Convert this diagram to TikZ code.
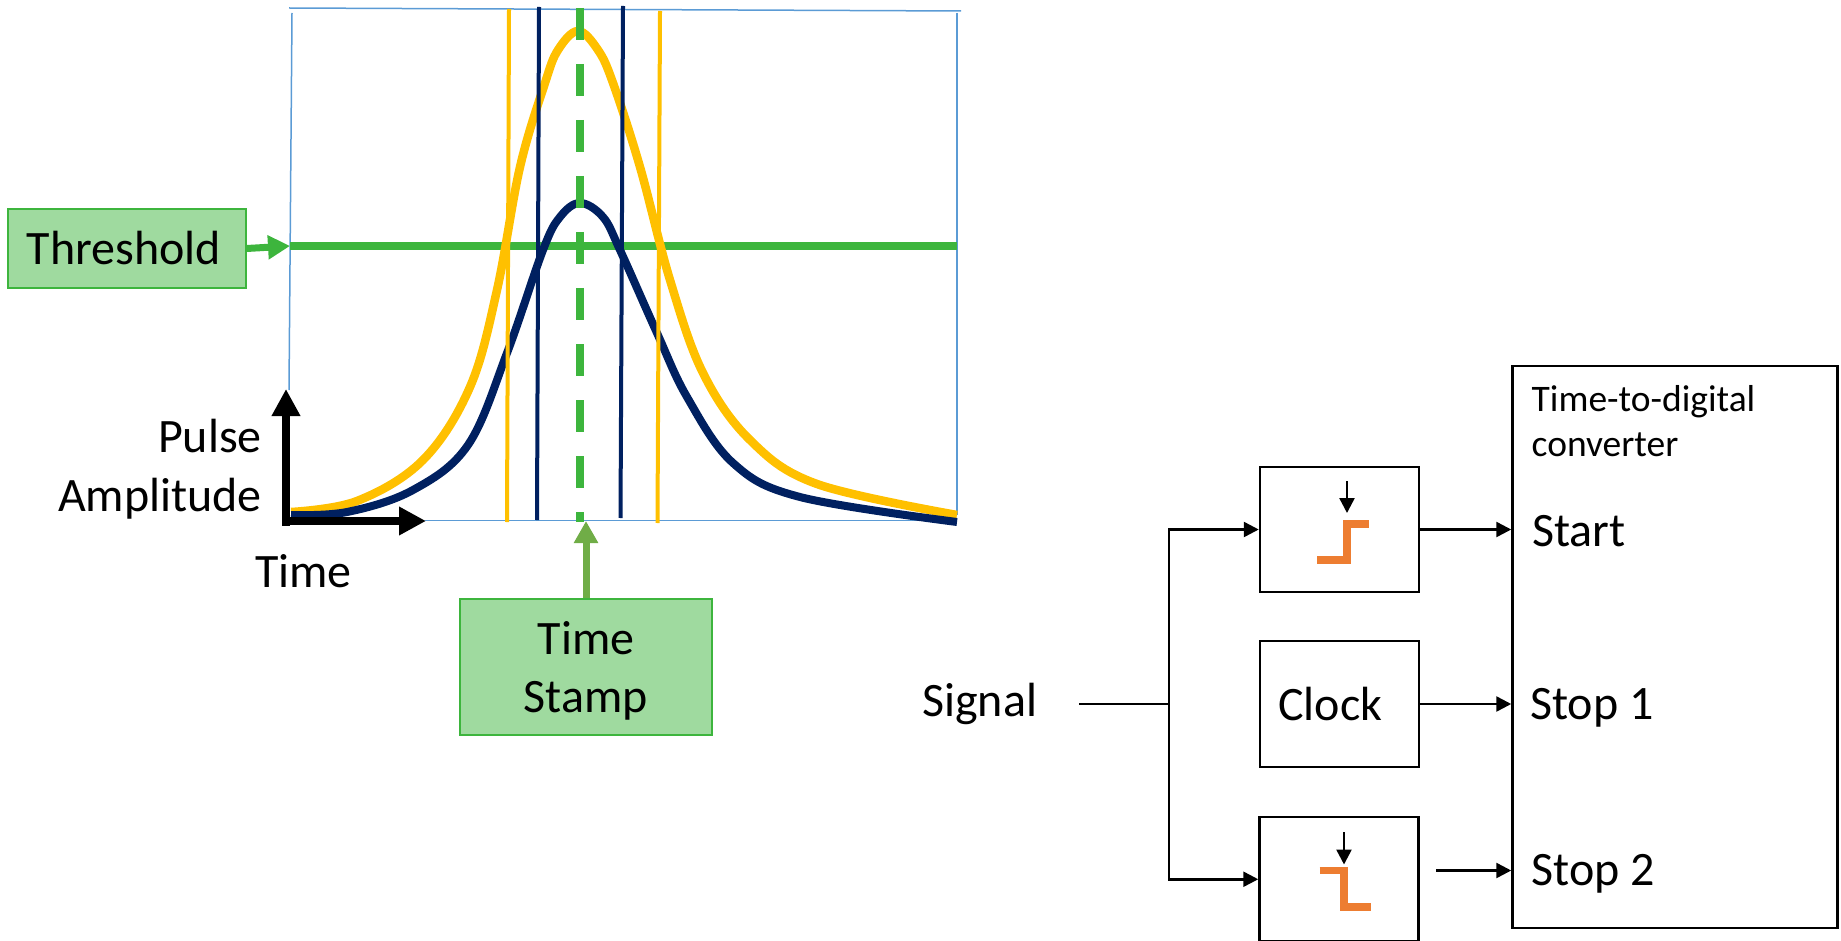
\documentclass[tikz,border=0pt]{standalone}
\usepackage{fontspec}
\setmainfont{Carlito}
\usetikzlibrary{arrows.meta}

\definecolor{framecol}{HTML}{5B9BD5}
\definecolor{pulseyellow}{HTML}{FFC000}
\definecolor{pulsenavy}{HTML}{002060}
\definecolor{markgreen}{HTML}{3DB53D}
\definecolor{labelfill}{HTML}{9FDA9F}
\definecolor{stamparrow}{HTML}{70AD47}
\definecolor{steporange}{HTML}{ED7D31}

\tikzset{
    bigtext/.style={font=\fontsize{48}{58}\selectfont, inner sep=0pt},
    smalltext/.style={font=\fontsize{37.5}{45}\selectfont, inner sep=0pt},
    greenlabel/.style={draw=markgreen, fill=labelfill, line width=1.5pt, inner sep=0pt},
    blockbox/.style={draw=black, line width=2.5pt, minimum width=159pt, inner sep=0pt},
    flow/.style={draw=black, line width=2.5pt, -{Triangle[length=15pt,width=15pt]}},
    axisarrow/.style={line width=8pt, -{Triangle[length=27pt,width=27pt]}},
    edgestep/.style={draw=steporange, line width=7.5pt},
    framerule/.style={framecol, line width=1.5pt},
}

\begin{document}
\begin{tikzpicture}[x=1pt,y=-1pt]
    \useasboundingbox (0,0) rectangle (1841,941);

    % Plot frame
    \draw[framerule] (289,8) -- (961,11);
    \draw[framerule] (292,13) -- (289,390);
    \draw[framerule] (957,13) -- (957,515);
    \draw[framerule] (425,520.5) -- (957,520.5);

    % Threshold line
    \coordinate (thrleft) at (290,246);
    \coordinate (thrright) at (957,246);
    \draw[markgreen, line width=8pt] (thrleft) -- (thrright);

    % Pulses
    \draw[pulseyellow, line width=8.5pt] plot[smooth, tension=0.6] coordinates {(291,512) (357,501) (423,460) (470,387) (497,290) (520,167) (545,83) (558,50) (578,31) (598,50) (613,83) (640,167) (670,280) (703,373) (750,440) (817,484) (957,515)};
    \draw[pulsenavy, line width=8pt] plot[smooth, tension=0.6] coordinates {(291,515) (347,512) (413,490) (468,445) (507,353) (543,250) (560,217) (580,203) (603,217) (620,250) (657,333) (687,397) (733,463) (800,497) (957,522)};

    % Crossing times
    \draw[pulseyellow, line width=4pt] (509,9) -- (507,522);
    \draw[pulseyellow, line width=4pt] (660,11) -- (657.5,523);
    \draw[pulsenavy, line width=4pt] (539,7) -- (537,520);
    \draw[pulsenavy, line width=4pt] (623,6) -- (620.5,518);

    % Time stamp line
    \draw[markgreen, line width=8pt, dash pattern=on 32pt off 24pt] (579.5,8) -- (579.5,522);

    % Axes
    \coordinate (ampltip) at (286,389);
    \coordinate (timetip) at (426,521);
    \draw[axisarrow] (286,525.5) -- (ampltip);
    \draw[axisarrow] (282,521) -- (timetip);
    \node[bigtext, anchor=base east] (pulse) at (262,452) {Pulse};
    \node[bigtext, anchor=base east] (ampl) at (262,511) {Amplitude};
    \node[bigtext, anchor=base west] (timelab) at (255,587) {Time};

    % Green labels
    \node[greenlabel, minimum width=238pt, minimum height=79pt] (threshold) at (127,248.5) {};
    \node[bigtext] (thresholdlab) at (124,248.5) {Threshold};
    \draw[markgreen, line width=7pt, -{Triangle[length=22pt,width=23pt]}] (threshold.east) -- (thrleft);
    \node[greenlabel, minimum width=252pt, minimum height=136pt] (stamp) at (586,667) {};
    \node[bigtext, align=center] (stamplab) at (586,670.5) {Time\\Stamp};
    \coordinate (stamptip) at (586,521);
    \draw[stamparrow, line width=7pt, -{Triangle[length=22pt,width=23pt]}] (stamp.north) -- (stamptip);

    % Time-to-digital converter
    \node[draw=black, line width=2.5pt, minimum width=325pt, minimum height=562pt, inner sep=0pt] (tdc) at (1675,647) {};
    \node[smalltext, anchor=base west] (tdctitle) at (1531.5,411) {Time-to-digital};
    \node[smalltext, anchor=base west] (tdcsub) at (1531.5,456.5) {converter};
    \node[bigtext, anchor=base west] (start) at (1532,546) {Start};
    \node[bigtext, anchor=base west] (stopa) at (1530,719) {Stop 1};
    \node[bigtext, anchor=base west] (stopb) at (1531.5,885) {Stop 2};

    % Blocks
    \node[blockbox, minimum height=125pt] (edgeup) at (1339.5,529.5) {};
    \node[blockbox, minimum height=126pt] (clock) at (1339.5,704) {};
    \node[blockbox, minimum height=124.5pt] (edgedown) at (1339,879.25) {};
    \node[bigtext, anchor=base west] (clocklab) at (1278,720) {Clock};

    % Signal and connectors
    \node[bigtext, anchor=base west] (signal) at (922,716) {Signal};
    \coordinate (sigin) at (1079,704);
    \coordinate (branch) at (1169,704);
    \coordinate (stopout) at (1436,870.5);
    \draw[black, line width=2.5pt] (sigin) -- (branch);
    \draw[flow] (branch) |- (edgeup.west);
    \draw[flow] (branch) |- (edgedown.west);
    \draw[flow] (edgeup.east) -- (edgeup.east -| tdc.west);
    \draw[flow] (clock.east) -- (clock.east -| tdc.west);
    \draw[flow] (stopout) -- (stopout -| tdc.west);

    % Edge symbols
    \coordinate (uptop) at (1347,481);
    \coordinate (uptip) at (1347,513);
    \coordinate (downtop) at (1344,832);
    \coordinate (downtip) at (1344,864.5);
    \draw[flow] (uptop) -- (uptip);
    \draw[flow] (downtop) -- (downtip);
    \draw[edgestep] (1317,560) -- (1347,560) -- (1347,524) -- (1369,524);
    \draw[edgestep] (1319.5,870.5) -- (1344,870.5) -- (1344,907) -- (1371,907);
\end{tikzpicture}
\end{document}
